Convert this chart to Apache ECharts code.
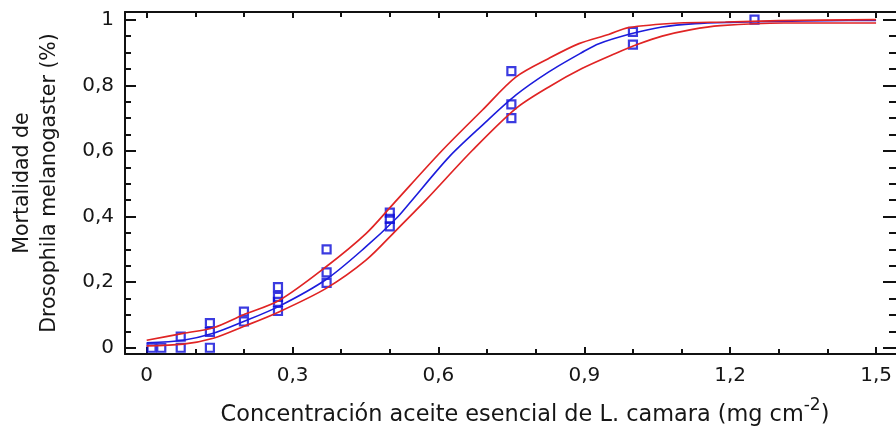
<!DOCTYPE html>
<html><head><meta charset="utf-8">
<script src="https://cdn.jsdelivr.net/npm/echarts@6/dist/echarts.min.js"></script>
<style>html,body{margin:0;padding:0;background:#fff}#c{width:896px;height:432px}</style>
</head><body><div id="c"></div>
<script>
// Axis tick values
const xMajorTicks = [0, 0.3, 0.6, 0.9, 1.2, 1.5];
const xMinorTicks = [0, 0.1, 0.2, 0.3, 0.4, 0.5, 0.6, 0.7, 0.8, 0.9, 1.0, 1.1, 1.2, 1.3, 1.4, 1.5];
const yMajorTicks = [0, 0.2, 0.4, 0.6, 0.8, 1];
const yMinorTicks = [0, 0.05, 0.1, 0.15, 0.2, 0.25, 0.3, 0.35, 0.4, 0.45, 0.5, 0.55, 0.6, 0.65, 0.7, 0.75, 0.8, 0.85, 0.9, 0.95, 1];

// Observed mortality (concentration, mortality)
const obsX = [0.01, 0.03, 0.07, 0.07, 0.13, 0.13, 0.13, 0.2, 0.2, 0.27, 0.27, 0.27, 0.27, 0.37, 0.37, 0.37, 0.5, 0.5, 0.5, 0.75, 0.75, 0.75, 1.0, 1.0, 1.25];
const obsY = [0, 0, 0.034, 0, 0.075, 0.048, 0, 0.11, 0.08, 0.185, 0.155, 0.14, 0.112, 0.30, 0.23, 0.198, 0.412, 0.393, 0.37, 0.843, 0.742, 0.70, 0.963, 0.924, 1.0];

// Fitted model (blue)
const fitX = [0, 0.075, 0.137, 0.198, 0.273, 0.369, 0.451, 0.513, 0.54, 0.622, 0.69, 0.759, 0.827, 0.895, 0.93, 0.998, 1.06, 1.128, 1.2, 1.3, 1.4, 1.5];
const fitY = [0.015, 0.023, 0.044, 0.079, 0.127, 0.208, 0.308, 0.394, 0.44, 0.582, 0.678, 0.77, 0.841, 0.90, 0.927, 0.958, 0.978, 0.988, 0.992, 0.995, 0.997, 0.998];

// Upper confidence limit (red)
const upperX = [0, 0.075, 0.137, 0.198, 0.273, 0.369, 0.451, 0.505, 0.608, 0.69, 0.759, 0.827, 0.889, 0.95, 0.991, 1.094, 1.19, 1.3, 1.5];
const upperY = [0.023, 0.044, 0.061, 0.10, 0.145, 0.247, 0.348, 0.435, 0.602, 0.724, 0.825, 0.882, 0.927, 0.955, 0.976, 0.99, 0.993, 0.997, 1.0];

// Lower confidence limit (red)
const lowerX = [0, 0.075, 0.137, 0.198, 0.273, 0.369, 0.451, 0.513, 0.574, 0.67, 0.759, 0.827, 0.895, 0.964, 1.01, 1.06, 1.12, 1.18, 1.31, 1.5];
const lowerY = [0.006, 0.011, 0.029, 0.064, 0.11, 0.181, 0.267, 0.358, 0.45, 0.602, 0.729, 0.795, 0.851, 0.897, 0.925, 0.95, 0.97, 0.982, 0.99, 0.99];

const X_MIN = -0.0446, X_MAX = 1.541;
const Y_MIN = -0.019, Y_MAX = 1.0235;

const FONT = "'DejaVu Sans', sans-serif";
const TXT = '#161616';
const fmt = v => String(Math.round(v * 10) / 10).replace('.', ',');
const pairs = (xs, ys) => xs.map((x, i) => [x, ys[i]]);

function xAx(pos, ticks, len, withLine, withLabel) {
  return {
    type: 'value', position: pos, min: X_MIN, max: X_MAX,
    splitLine: { show: false },
    axisLine: { show: withLine, onZero: false, lineStyle: { color: '#111', width: 2 } },
    axisTick: { show: true, inside: true, length: len, customValues: ticks, lineStyle: { color: '#111', width: 2 } },
    axisLabel: withLabel ? { show: true, customValues: xMajorTicks, formatter: fmt, fontFamily: FONT, fontSize: 20, color: TXT, margin: 12 } : { show: false }
  };
}
function yAx(pos, ticks, len, withLine, withLabel) {
  return {
    type: 'value', position: pos, min: Y_MIN, max: Y_MAX,
    splitLine: { show: false },
    axisLine: { show: withLine, onZero: false, lineStyle: { color: '#111', width: 2 } },
    axisTick: { show: true, inside: true, length: len, customValues: ticks, lineStyle: { color: '#111', width: 2 } },
    axisLabel: withLabel ? { show: true, customValues: yMajorTicks, formatter: fmt, fontFamily: FONT, fontSize: 20, color: TXT, margin: 11 } : { show: false }
  };
}

const xMain = xAx('bottom', xMajorTicks, 7, true, true);
xMain.name = '{a|Concentración aceite esencial de L. camara (mg cm}{s|-2}{a|)}';
xMain.nameLocation = 'middle';
xMain.nameGap = 43;
xMain.nameTextStyle = {
  padding: [0, 0, 0, 29],
  rich: {
    a: { fontFamily: FONT, fontSize: 22.4, color: TXT, lineHeight: 29, verticalAlign: 'bottom' },
    s: { fontFamily: FONT, fontSize: 17, color: TXT, lineHeight: 17, verticalAlign: 'top' }
  }
};

const yMain = yAx('left', yMajorTicks, 11, true, true);
yMain.name = 'Mortalidad de\nDrosophila melanogaster (%)';
yMain.nameLocation = 'middle';
yMain.nameRotate = 90;
yMain.nameGap = 62;
yMain.nameTextStyle = { fontFamily: FONT, fontSize: 20.5, color: TXT, lineHeight: 27 };

const option = {
  animation: false,
  backgroundColor: '#fff',
  grid: { left: 125, width: 773, top: 12, height: 342, containLabel: false },
  xAxis: [
    xMain,
    xAx('bottom', xMinorTicks, 5, false, false),
    xAx('top', xMajorTicks, 6, true, false),
    xAx('top', xMinorTicks, 5, false, false)
  ],
  yAxis: [
    yMain,
    yAx('left', yMinorTicks, 6, false, false),
    yAx('right', yMajorTicks, 13, false, false),
    yAx('right', yMinorTicks, 7, false, false)
  ],
  series: [
    {
      type: 'scatter', name: 'Observado', data: pairs(obsX, obsY),
      symbol: 'rect', symbolSize: 8,
      itemStyle: { color: 'rgba(255,255,255,0)', borderColor: '#0a0ad8', borderWidth: 2.2 },
      z: 2
    },
    {
      type: 'line', name: 'Ajuste', data: pairs(fitX, fitY), showSymbol: false,
      smooth: 0.3, lineStyle: { color: '#1c1cdc', width: 1.6 }, z: 3
    },
    {
      type: 'line', name: 'LC superior', data: pairs(upperX, upperY), showSymbol: false,
      smooth: 0.3, lineStyle: { color: '#e02424', width: 1.7 }, z: 4
    },
    {
      type: 'line', name: 'LC inferior', data: pairs(lowerX, lowerY), showSymbol: false,
      smooth: 0.3, lineStyle: { color: '#e02424', width: 1.7 }, z: 4
    }
  ]
};
const chart = echarts.init(document.getElementById('c'), null, { renderer: 'canvas' });
chart.setOption(option);
</script>
</body></html>
